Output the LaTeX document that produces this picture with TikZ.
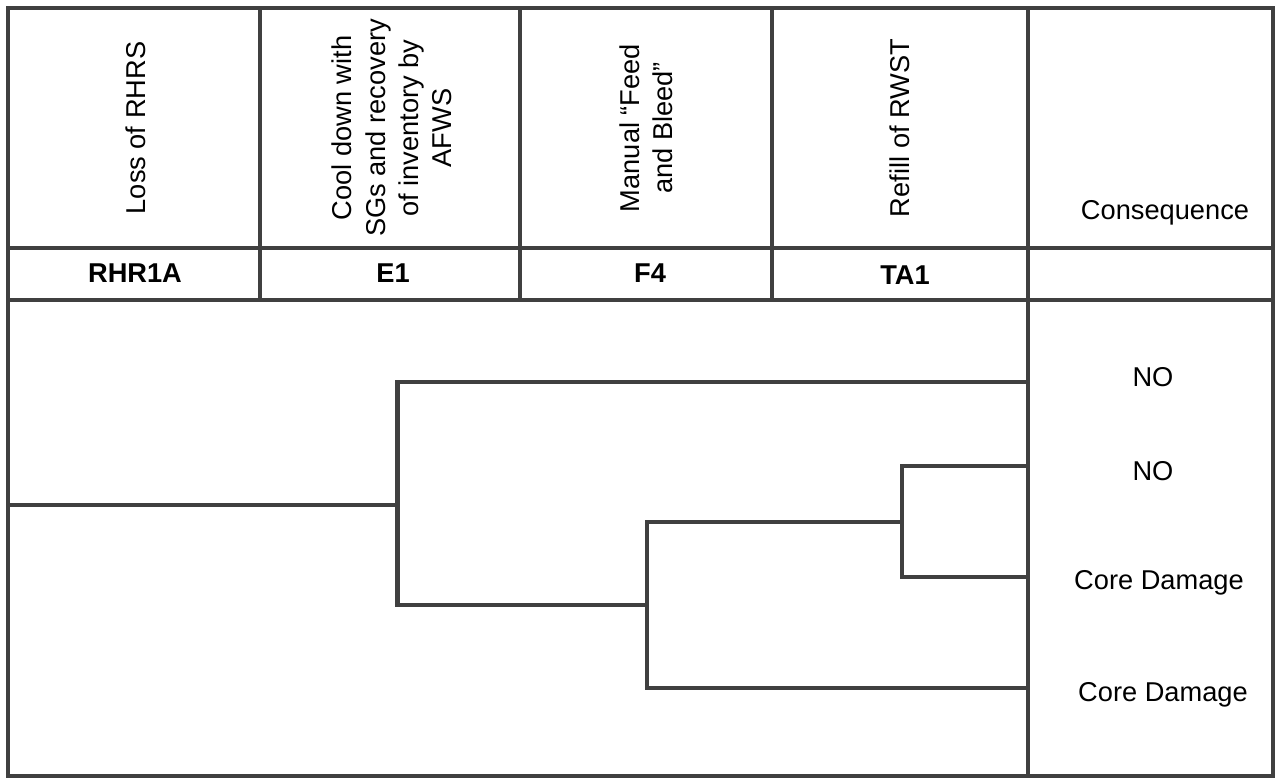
\documentclass[tikz,border=0pt]{standalone}
\usepackage{fontspec}
\setmainfont{Liberation Sans}
\usepackage{tikz}
\usetikzlibrary{positioning,calc}
\definecolor{linegray}{RGB}{64,64,64}

\begin{document}
\begin{tikzpicture}[
    rule/.style={draw=linegray, line width=2.8pt},
    branch/.style={draw=linegray, line width=2.8pt, line cap=rect},
    head/.style={rotate=90, align=center, font=\fontsize{15.5}{19}\selectfont, inner sep=0pt},
    code/.style={font=\fontsize{15.5}{19}\selectfont\bfseries, inner sep=0pt},
    cons/.style={font=\fontsize{15.5}{19}\selectfont, inner sep=0pt}
]
\useasboundingbox (0,0) rectangle (25.62,15.6);

\draw[rule] (0.16,0.08) rectangle (25.46,15.44);
\draw[rule] (0.16,10.64) -- (25.46,10.64);
\draw[rule] (0.16,9.6) -- (25.46,9.6);
\draw[rule] (5.2,15.44) -- (5.2,9.6);
\draw[rule] (10.4,15.44) -- (10.4,9.6);
\draw[rule] (15.44,15.44) -- (15.44,9.6);
\draw[rule] (20.56,15.44) -- (20.56,0.08);

\node[head] (hRHR) at (2.72,13.04) {Loss of RHRS};
\node[head] (hE) at (7.84,13.04) {Cool down with\\SGs and recovery\\of inventory by\\AFWS};
\node[head] (hF) at (12.92,13.04) {Manual “Feed\\and Bleed”};
\node[head] (hTA) at (18.0,13.04) {Refill of RWST};
\node[cons] (hCons) at (23.3,11.34) {Consequence};

\node[code] (cRHR) at (2.7,10.14) {RHR1A};
\node[code] (cE) at (7.86,10.14) {E1};
\node[code] (cF) at (13.0,10.14) {F4};
\node[code] (cTA) at (18.1,10.1) {TA1};

\coordinate (init) at (0.16,5.5);
\coordinate (e1) at (7.95,5.5);
\coordinate (f4) at (12.94,3.5);
\coordinate (ta1) at (18.04,5.16);
\coordinate (seq1) at (20.56,7.96);
\coordinate (seq2) at (20.56,6.28);
\coordinate (seq3) at (20.56,4.06);
\coordinate (seq4) at (20.56,1.84);

\draw[branch] (init) -- (e1);
\draw[branch] (seq1) -| (e1) |- (f4) |- (ta1) |- (seq2);
\draw[branch] (ta1) |- (seq3);
\draw[branch] (f4) |- (seq4);

\node[cons] (out1) at (23.06,8.06) {NO};
\node[cons] (out2) at (23.06,6.18) {NO};
\node[cons] (out3) at (23.18,3.94) {Core Damage};
\node[cons] (out4) at (23.26,1.7) {Core Damage};
\end{tikzpicture}
\end{document}
